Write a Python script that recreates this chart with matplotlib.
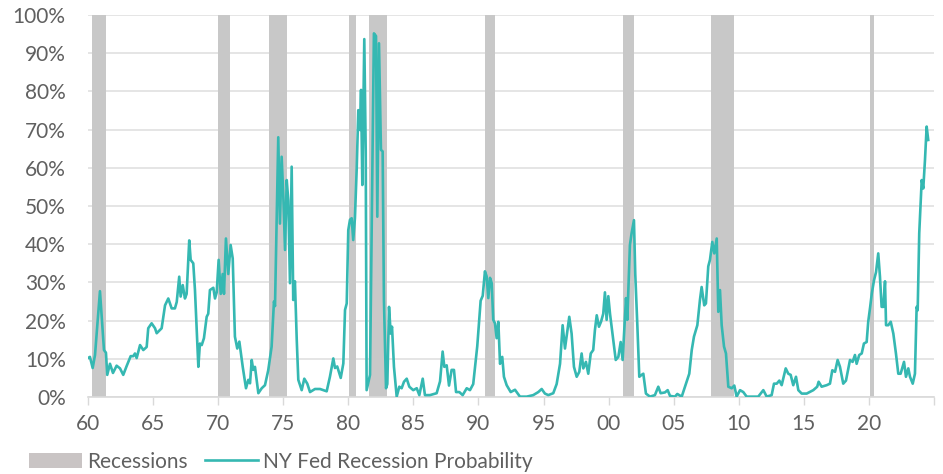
#!/usr/bin/env python3
"""
plot.py - NY Fed recession probability with NBER recession shading.
"""

import matplotlib
matplotlib.use('Agg')
import matplotlib.pyplot as plt
from matplotlib.patches import Patch
from matplotlib.lines import Line2D
from matplotlib.ticker import FuncFormatter

# decimal years
dates = [
    1960.00, 1960.15, 1960.36, 1960.54, 1960.92, 1961.23, 1961.38, 1961.48, 1961.69, 1961.92,
    1962.20, 1962.46, 1962.71, 1962.97, 1963.28, 1963.48, 1963.61, 1963.74, 1964.00, 1964.25,
    1964.51, 1964.63, 1964.89, 1965.15, 1965.28, 1965.66, 1965.92, 1966.17, 1966.43, 1966.68,
    1966.82, 1967.01, 1967.12, 1967.28, 1967.45, 1967.58, 1967.78, 1967.89, 1968.09, 1968.22,
    1968.48, 1968.60, 1968.74, 1968.91, 1969.12, 1969.24, 1969.37, 1969.63, 1969.76, 1969.89,
    1970.04, 1970.20, 1970.35, 1970.45, 1970.60, 1970.78, 1970.96, 1971.12, 1971.29, 1971.47,
    1971.63, 1971.89, 1972.14, 1972.32, 1972.45, 1972.58, 1972.70, 1972.83, 1973.09, 1973.35,
    1973.60, 1973.85, 1974.11, 1974.29, 1974.37, 1974.62, 1974.75, 1974.88, 1975.01, 1975.14,
    1975.27, 1975.39, 1975.52, 1975.65, 1975.77, 1975.90, 1976.04, 1976.16, 1976.42, 1976.62,
    1976.85, 1977.06, 1977.44, 1977.83, 1978.34, 1978.59, 1978.85, 1978.98, 1979.15, 1979.42,
    1979.62, 1979.75, 1979.88, 1980.00, 1980.13, 1980.26, 1980.38, 1980.51, 1980.65, 1980.77,
    1980.90, 1980.98, 1981.08, 1981.23, 1981.34, 1981.41, 1981.67, 1981.97, 1982.13, 1982.23,
    1982.36, 1982.51, 1982.64, 1982.74, 1982.90, 1983.00, 1983.13, 1983.26, 1983.36, 1983.51,
    1983.72, 1983.92, 1984.10, 1984.28, 1984.49, 1984.69, 1984.99, 1985.26, 1985.46, 1985.72,
    1985.89, 1986.28, 1986.79, 1987.05, 1987.25, 1987.38, 1987.56, 1987.74, 1987.94, 1988.12,
    1988.28, 1988.53, 1988.79, 1989.10, 1989.35, 1989.60, 1989.91, 1990.17, 1990.33, 1990.50,
    1990.63, 1990.76, 1990.89, 1991.02, 1991.14, 1991.27, 1991.40, 1991.53, 1991.66, 1991.83,
    1991.96, 1992.17, 1992.48, 1992.81, 1993.19, 1993.71, 1994.21, 1994.60, 1994.86, 1995.11,
    1995.37, 1995.75, 1996.01, 1996.27, 1996.47, 1996.65, 1996.98, 1997.16, 1997.34, 1997.55,
    1997.75, 1997.93, 1998.06, 1998.26, 1998.44, 1998.63, 1998.82, 1998.95, 1999.09, 1999.26,
    1999.42, 1999.59, 1999.72, 1999.85, 1999.98, 2000.11, 2000.33, 2000.55, 2000.75, 2000.93,
    2001.08, 2001.34, 2001.44, 2001.64, 2001.77, 2001.95, 2002.05, 2002.21, 2002.36, 2002.54,
    2002.67, 2002.87, 2003.18, 2003.56, 2003.82, 2004.00, 2004.33, 2004.54, 2004.72, 2005.10,
    2005.28, 2005.62, 2005.95, 2006.20, 2006.39, 2006.56, 2006.82, 2007.02, 2007.15, 2007.35,
    2007.48, 2007.66, 2007.79, 2007.97, 2008.12, 2008.31, 2008.43, 2008.56, 2008.69, 2008.87,
    2009.02, 2009.20, 2009.46, 2009.66, 2009.84, 2010.10, 2010.35, 2010.61, 2011.12, 2011.50,
    2011.89, 2012.15, 2012.53, 2012.71, 2012.92, 2013.12, 2013.30, 2013.61, 2013.81, 2013.99,
    2014.19, 2014.40, 2014.58, 2014.84, 2015.22, 2015.73, 2016.03, 2016.14, 2016.37, 2016.76,
    2017.01, 2017.19, 2017.40, 2017.60, 2017.78, 2018.03, 2018.24, 2018.55, 2018.75, 2018.93,
    2019.06, 2019.26, 2019.45, 2019.62, 2019.83, 2019.95, 2020.10, 2020.22, 2020.39, 2020.55,
    2020.72, 2020.85, 2020.98, 2021.11, 2021.24, 2021.32, 2021.49, 2021.68, 2021.88, 2022.08,
    2022.26, 2022.44, 2022.70, 2022.85, 2023.03, 2023.16, 2023.37, 2023.54, 2023.67, 2023.75,
    2023.87, 2024.06, 2024.18, 2024.31, 2024.44, 2024.56,
]

# recession probability, percent
probs = [
    10.2, 10.5, 7.6, 11.0, 27.7, 12.3, 11.6, 5.8, 8.7, 6.3,
    8.2, 7.5, 5.8, 8.1, 10.7, 10.7, 11.4, 10.2, 13.6, 12.3,
    13.1, 18.0, 19.3, 18.0, 16.7, 18.0, 24.0, 25.8, 23.2, 23.2,
    24.9, 31.5, 26.3, 29.3, 25.8, 27.0, 41.0, 35.9, 35.0, 28.0,
    7.9, 14.0, 13.6, 15.4, 21.0, 21.8, 28.0, 28.6, 25.8, 27.4,
    35.9, 27.0, 32.2, 27.0, 41.5, 32.2, 39.8, 36.3, 15.8, 12.7,
    14.5, 7.9, 2.3, 4.5, 3.6, 9.7, 7.1, 7.9, 1.0, 2.3,
    3.1, 7.0, 13.2, 25.0, 23.8, 68.0, 45.4, 62.9, 52.4, 38.5,
    56.8, 51.5, 29.8, 60.3, 25.4, 30.3, 15.0, 4.5, 1.8, 4.8,
    3.5, 1.3, 2.1, 2.1, 1.5, 5.3, 10.1, 7.6, 8.0, 5.0,
    8.8, 22.8, 24.5, 43.7, 46.4, 46.8, 41.1, 46.8, 60.0, 75.1,
    69.9, 80.4, 55.5, 93.7, 64.4, 1.8, 5.8, 95.2, 94.5, 47.2,
    92.6, 64.7, 64.3, 25.4, 2.3, 3.4, 23.6, 16.6, 18.4, 7.9,
    0.1, 2.7, 2.3, 4.0, 4.8, 2.7, 1.8, 2.3, 0.5, 4.8,
    0.5, 0.5, 1.0, 4.1, 11.9, 7.9, 8.3, 3.0, 7.1, 7.1,
    1.3, 1.3, 0.5, 2.3, 1.8, 3.4, 13.3, 25.2, 26.5, 32.9,
    31.6, 25.9, 31.2, 29.8, 20.2, 19.3, 15.4, 19.7, 8.7, 10.5,
    5.3, 3.1, 1.3, 1.9, 0.1, 0.1, 0.5, 1.3, 2.1, 0.9,
    0.5, 1.0, 3.4, 8.7, 18.8, 12.7, 21.0, 16.6, 7.9, 5.3,
    6.6, 11.4, 7.5, 9.2, 6.1, 11.4, 12.3, 17.5, 21.4, 18.4,
    19.7, 21.8, 27.4, 20.2, 26.4, 21.8, 15.8, 9.7, 10.5, 14.4,
    9.7, 25.9, 20.2, 39.8, 42.9, 46.3, 32.2, 18.8, 5.3, 5.8,
    6.1, 0.9, 0.1, 0.5, 2.7, 1.0, 1.2, 1.8, 0.3, 0.1,
    0.8, 0.1, 3.5, 6.1, 12.3, 15.8, 18.8, 25.4, 28.8, 24.0,
    24.5, 34.2, 35.9, 40.6, 37.6, 41.5, 22.3, 28.0, 18.8, 13.2,
    11.4, 2.7, 2.3, 3.0, 0.1, 1.8, 1.3, 0.1, 0.1, 0.1,
    1.8, 0.1, 0.5, 3.5, 3.5, 4.3, 3.1, 7.5, 6.1, 5.8,
    3.1, 5.3, 1.8, 0.9, 0.9, 1.8, 2.7, 4.0, 2.7, 3.1,
    3.5, 7.0, 6.6, 9.7, 7.9, 3.5, 4.3, 9.7, 9.2, 11.0,
    8.7, 11.0, 11.4, 14.0, 14.4, 19.7, 23.6, 27.0, 30.5, 32.7,
    37.6, 31.6, 23.6, 23.6, 30.3, 18.8, 18.8, 19.7, 16.6, 11.4,
    6.1, 6.1, 9.2, 5.3, 7.5, 5.3, 3.5, 6.1, 23.6, 22.7,
    42.9, 56.8, 54.6, 62.0, 70.8, 67.3,
]

# recession bands (start, end) in decimal years, as drawn on the chart
rec_start = [1960.31, 1969.98, 1973.90, 1980.03, 1981.57, 1990.47, 2001.14, 2007.90, 2020.07]
rec_end   = [1961.38, 1970.95, 1975.30, 1980.62, 1982.97, 1991.30, 2001.98, 2009.60, 2020.42]

xtick_years  = [1960, 1965, 1970, 1975, 1980, 1985, 1990, 1995, 2000, 2005, 2010, 2015, 2020, 2025]
xtick_labels = ['60', '65', '70', '75', '80', '85', '90', '95', '00', '05', '10', '15', '20', '']

TEAL = '#35b8b2'
GREY = '#c8c8c8'
TEXT = '#606060'

plt.rcParams['font.family'] = ['Lato', 'DejaVu Sans']

fig = plt.figure(figsize=(9.43, 4.74), dpi=100)
ax = fig.add_axes([0.0933, 0.1624, 0.8971, 0.8059])

for s, e in zip(rec_start, rec_end):
    ax.axvspan(s, e, color=GREY, lw=0, zorder=1)

ax.plot(dates, [p / 100 for p in probs], color=TEAL, lw=1.9, zorder=3)

ax.set_xlim(1960, 2025)
ax.set_ylim(0, 1.0)
ax.set_yticks([i / 10 for i in range(11)])
ax.yaxis.set_major_formatter(FuncFormatter(lambda v, _: f'{v * 100:.0f}%'))
ax.set_xticks(xtick_years)
ax.set_xticklabels(xtick_labels)

ax.grid(axis='y', color='#e0e0e0', lw=1.2, zorder=0)
ax.set_axisbelow(True)
for side in ('left', 'right', 'top'):
    ax.spines[side].set_visible(False)
ax.spines['bottom'].set_color('#d9d9d9')
ax.spines['bottom'].set_linewidth(1.2)

ax.tick_params(axis='y', length=0, pad=16, labelsize=15, labelcolor=TEXT)
ax.tick_params(axis='x', length=6, width=1, color='#d9d9d9', pad=6,
               labelsize=15, labelcolor=TEXT)

handles = [Patch(facecolor='#c9c4c4', edgecolor='none'),
           Line2D([0], [0], color=TEAL, lw=1.9)]
leg = fig.legend(handles, ['Recessions', 'NY Fed Recession Probability'],
                 loc='lower left', bbox_to_anchor=(0.011, -0.035), ncol=2,
                 frameon=False, fontsize=15, handlelength=2.55, handleheight=0.75,
                 handletextpad=0.25, columnspacing=0.8, labelcolor=TEXT)

fig.savefig('out.png', dpi=100)
